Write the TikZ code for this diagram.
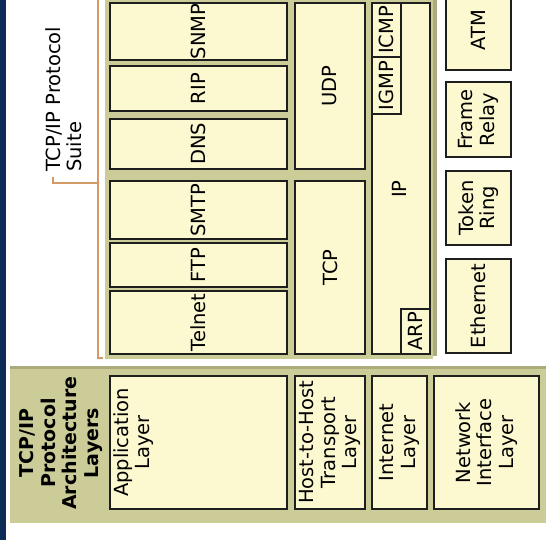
\documentclass[tikz,border=0pt]{standalone}
\usepackage{fontspec}
\setmainfont{DejaVu Sans}
\definecolor{navybar}{HTML}{0C2C56}
\definecolor{olivebg}{HTML}{CCCC99}
\definecolor{olivedark}{HTML}{ABAB7E}
\definecolor{boxfill}{HTML}{FCF8D0}
\definecolor{boxline}{HTML}{1E1E1E}
\definecolor{bracketcol}{HTML}{D49A66}
\tikzset{
  txtfont/.style={font=\fontsize{19.5}{21.7}\selectfont},
  protobox/.style={draw=boxline, line width=1.5pt, fill=boxfill, inner sep=0pt,
    rotate=90, align=center, txtfont},
  lbltext/.style={inner sep=0pt, rotate=90, align=center, txtfont},
  bracketline/.style={draw=bracketcol, line width=2pt},
}
\begin{document}
\begin{tikzpicture}[x=1pt,y=-1pt]
\useasboundingbox (0,0) rectangle (546,539);
\clip (0,0) rectangle (546,539);
\fill[white] (0,0) rectangle (546,539);
% left navy bar
\fill[navybar] (0,-2) rectangle (5.5,541);
% protocol suite background
\fill[olivebg] (105,-5) rectangle (433,359);
\fill[olivedark] (433,-5) rectangle (437,356);
% layers background
\fill[olivebg] (10,366) rectangle (550,523);
\fill[olivedark] (10,366) rectangle (550,369);

% application protocols (x 110-287)
\node[protobox, minimum width=57pt, minimum height=177pt] (snmp) at (198.5,31.5) {SNMP};
\node[protobox, minimum width=45pt, minimum height=177pt] (rip) at (198.5,88.5) {RIP};
\node[protobox, minimum width=50pt, minimum height=177pt] (dns) at (198.5,144) {DNS};
\node[protobox, minimum width=58pt, minimum height=177pt] (smtp) at (198.5,210) {SMTP};
\node[protobox, minimum width=44pt, minimum height=177pt] (ftp) at (198.5,265) {FTP};
\node[protobox, minimum width=63pt, minimum height=177pt] (telnet) at (198.5,322.5) {Telnet};
% transport
\node[protobox, minimum width=166pt, minimum height=70pt] (udp) at (330,86) {UDP};
\node[protobox, minimum width=173pt, minimum height=70pt] (tcp) at (330,267.5) {TCP};
% internet
\node[protobox, minimum width=351pt, minimum height=58pt] (ip) at (401,178.5) {};
\node[lbltext] (iptxt) at (399,189) {IP};
\node[protobox, minimum width=54pt, minimum height=29pt] (icmp) at (386.5,30) {ICMP};
\node[protobox, minimum width=57pt, minimum height=29pt] (igmp) at (386.5,85.5) {IGMP};
\node[protobox, minimum width=45pt, minimum height=29pt] (arp) at (415.5,331.5) {ARP};
% network interface
\node[protobox, minimum width=80pt, minimum height=65pt] (atm) at (478.5,30) {ATM};
\node[protobox, minimum width=75pt, minimum height=65pt] (frame) at (478.5,119.5) {Frame\\Relay};
\node[protobox, minimum width=74pt, minimum height=65pt] (token) at (478.5,208) {Token\\Ring};
\node[protobox, minimum width=94pt, minimum height=65pt] (ether) at (478.5,306) {Ethernet};

% layers
\node[rotate=90, align=center, inner sep=0pt, font=\bfseries\fontsize{19}{21.7}\selectfont] (title) at (61,443) {TCP/IP\\Protocol\\Architecture\\Layers};
\node[protobox, minimum width=133pt, minimum height=177pt] (applayer) at (198.5,442.5) {};
\node[lbltext, anchor=north] (applayertxt) at (113,442.5) {Application\\Layer};
\node[protobox, minimum width=133pt, minimum height=70pt] (translayer) at (330,442.5) {Host-to-Host\\Transport\\Layer};
\node[protobox, minimum width=133pt, minimum height=55pt] (inetlayer) at (399.5,442.5) {Internet\\Layer};
\node[protobox, minimum width=133pt, minimum height=105pt] (netlayer) at (486.5,442.5) {Network\\Interface\\Layer};

% suite label and bracket
\node[lbltext, align=left, anchor=north west] (suite) at (45,172) {TCP/IP Protocol\\Suite};
\coordinate (brtop) at (98,-3);
\coordinate (brbot) at (98,358);
\coordinate (brfoot) at (103,358);
\coordinate (tickr) at (98,183);
\coordinate (tickl) at (53,183);
\coordinate (ticku) at (53,177);
\draw[bracketline] (brtop) -- (brbot) -- (brfoot);
\draw[bracketline] (ticku) -- (tickl) -- (tickr);
\end{tikzpicture}
\end{document}
